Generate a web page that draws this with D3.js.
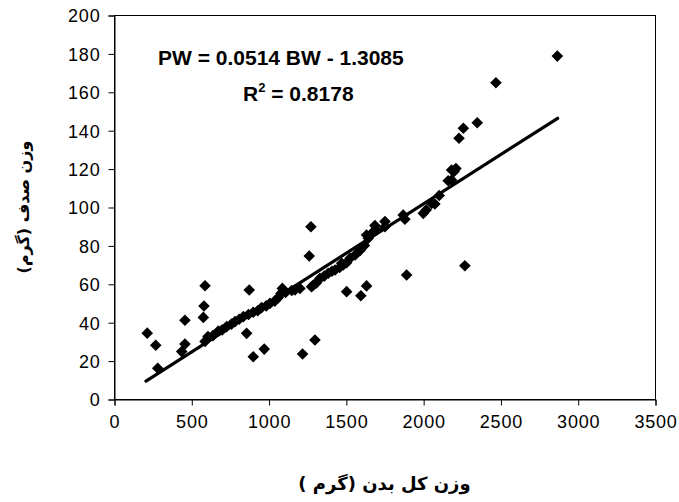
<!DOCTYPE html>
<html>
<head>
<meta charset="utf-8">
<script src="https://cdn.jsdelivr.net/npm/d3@7"></script>
<style>
  body { margin: 0; background: #fff; }
  svg { display: block; }
  .tick text { font-family: Arial, "Liberation Sans", sans-serif; font-size: 18px; letter-spacing: 0.8px; fill: #000; }
  .axis-title { font-family: "DejaVu Sans", Arial, sans-serif; font-size: 16px; font-weight: bold; }
  .eq { font-family: Arial, "Liberation Sans", sans-serif; font-size: 21px; font-weight: bold; }
</style>
</head>
<body>
<svg id="chart"></svg>
<script>
// body weight (g) and shell weight (g)
const bodyWeight = [
  215, 270, 283, 438, 459, 459, 578, 582, 589, 589, 608,
  858, 875, 901, 972, 1220, 1300, 1263, 1274, 1893, 2270, 1505, 1634, 1597,
  640, 675, 700, 729, 760, 783, 810, 837, 870, 901, 930, 955, 985, 1009, 1040,
  1063, 1080, 1089, 1110, 1150, 1171, 1203, 1278, 1290, 1310, 1332, 1360, 1386,
  1410, 1430, 1460, 1473, 1483, 1505, 1527, 1560, 1591, 1591, 1620, 1634, 1645,
  1670, 1688, 1699, 1753, 1753, 1871, 1882, 2001, 2020, 2055, 2076, 2104, 2162,
  2184, 2184, 2200, 2212, 2232, 2260, 2350, 2471, 2868
]
const shellWeight = [
  34.3, 28, 16, 24.7, 28.6, 41, 42.5, 48.4, 59, 30, 32.5,
  34.2, 56.8, 22, 26, 23.4, 30.7, 74.5, 89.7, 64.6, 69.4, 55.9, 58.9, 53.8,
  33, 35.4, 36, 37.7, 39, 40.3, 41.5, 42.9, 44, 45.2, 46, 47.6, 48.5, 49.8, 51,
  52.8, 55, 57.6, 55.5, 56.5, 56.8, 57.6, 58.5, 59.4, 60.5, 62.8, 64, 65.5,
  66.5, 67.2, 68.5, 70.7, 69.8, 71, 73.3, 75, 77.6, 77.3, 80, 85.4, 83.7,
  86.5, 90.3, 88, 92.4, 89.7, 95.8, 93.6, 96.7, 98.5, 101.9, 101.6, 106, 113.7,
  114, 119.3, 118.5, 120, 135.8, 141, 143.9, 164.7, 178.6
]

const xTicks = [0, 500, 1000, 1500, 2000, 2500, 3000, 3500]
const yTicks = [0, 20, 40, 60, 80, 100, 120, 140, 160, 180, 200]

// fitted trend line PW = a BW + b
const slope = 0.0514
const intercept = -1.3085
const fitRange = [207, 2870]

const eqLine = "PW = 0.0514 BW - 1.3085"
const r2Value = "0.8178"
const xTitle = "وزن کل بدن (گرم )"
const yTitle = "وزن صدف (گرم)"

const width = 679, height = 502
const plot = {left: 114, right: 655, top: 15, bottom: 399}

const svg = d3.select('#chart')
  .attr('width', width)
  .attr('height', height)

const xScale = d3.scaleLinear().domain([0, 3500]).range([plot.left, plot.right])
const yScale = d3.scaleLinear().domain([0, 200]).range([plot.bottom, plot.top])

// plot frame
svg.append('rect')
  .attr('x', plot.left + 0.5)
  .attr('y', plot.top + 0.5)
  .attr('width', plot.right - plot.left)
  .attr('height', plot.bottom - plot.top)
  .attr('fill', 'none')
  .attr('stroke', '#000')

const xAxis = d3.axisBottom(xScale)
  .tickValues(xTicks)
  .tickFormat(d3.format('d'))
  .tickSize(6)
  .tickPadding(10)

const yAxis = d3.axisLeft(yScale)
  .tickValues(yTicks)
  .tickFormat(d3.format('d'))
  .tickSize(6)
  .tickPadding(8)

svg.append('g')
  .attr('transform', 'translate(0.5,' + (plot.bottom + 0.5) + ')')
  .call(xAxis)
  .call(g => g.select('.domain').attr('stroke', '#000'))
  .call(g => g.selectAll('.tick line').attr('stroke', '#000'))

svg.append('g')
  .attr('transform', 'translate(' + (plot.left + 0.5) + ',0.5)')
  .call(yAxis)
  .call(g => g.select('.domain').attr('stroke', '#000'))
  .call(g => g.selectAll('.tick line').attr('stroke', '#000'))
  .call(g => g.selectAll('.tick text').attr('dy', '0.36em'))

// points
const points = bodyWeight.map((bw, i) => ({bw, pw: shellWeight[i]}))
const r = 5.8

svg.append('g')
  .selectAll('path')
  .data(points)
  .enter().append('path')
  .attr('d', 'M0,' + -r + 'L' + r + ',0L0,' + r + 'L' + -r + ',0Z')
  .attr('transform', d => 'translate(' + [xScale(d.bw), yScale(d.pw)] + ')')
  .attr('fill', '#000')

// trend line
svg.append('line')
  .attr('x1', xScale(fitRange[0]))
  .attr('y1', yScale(slope * fitRange[0] + intercept))
  .attr('x2', xScale(fitRange[1]))
  .attr('y2', yScale(slope * fitRange[1] + intercept))
  .attr('stroke', '#000')
  .attr('stroke-width', 3.2)
  .attr('stroke-linecap', 'round')

// equation text
svg.append('text')
  .attr('class', 'eq')
  .attr('x', 158)
  .attr('y', 65)
  .text(eqLine)

const r2 = svg.append('text')
  .attr('class', 'eq')
  .attr('x', 243)
  .attr('y', 101)
r2.append('tspan').text('R')
r2.append('tspan').attr('font-size', '13px').attr('dy', -9).text('2')
r2.append('tspan').attr('dy', 9).text(' = ' + r2Value)

// axis titles
svg.append('text')
  .attr('class', 'axis-title')
  .attr('x', (plot.left + plot.right) / 2)
  .attr('y', 490)
  .attr('text-anchor', 'middle')
  .attr('direction', 'rtl')
  .attr('unicode-bidi', 'embed')
  .style('font-size', '18px')
  .text(xTitle)

svg.append('text')
  .attr('class', 'axis-title')
  .attr('transform', 'translate(29,' + (plot.top + plot.bottom) / 2 + ') rotate(-90)')
  .attr('text-anchor', 'middle')
  .attr('direction', 'rtl')
  .attr('unicode-bidi', 'embed')
  .text(yTitle)
</script>
</body>
</html>
